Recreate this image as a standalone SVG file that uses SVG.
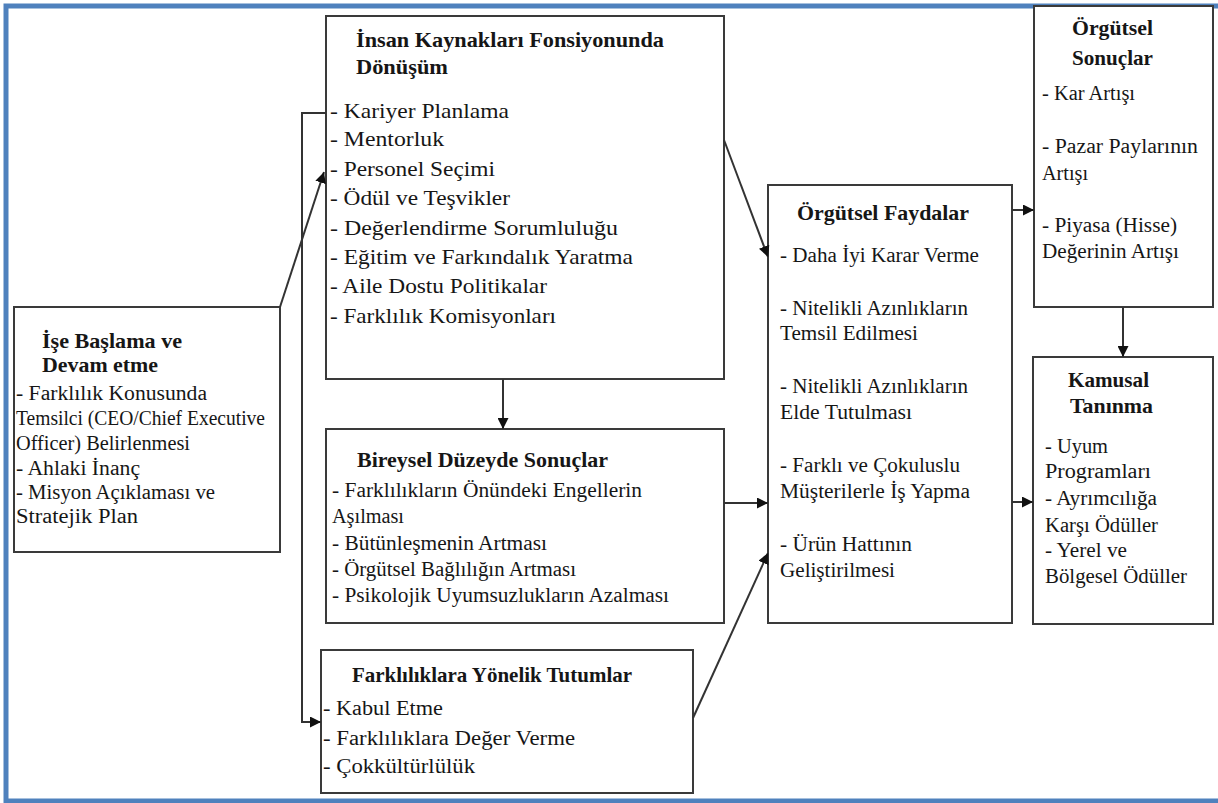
<svg xmlns="http://www.w3.org/2000/svg" width="1218" height="803" viewBox="0 0 1218 803">
<defs>
<style>
.box{fill:#ffffff;stroke:#3a3a3a;stroke-width:2}
.frame{fill:none;stroke:#4f81bd;stroke-width:5}
.conn{fill:none;stroke:#333333;stroke-width:2}
text{font-family:"Liberation Serif","DejaVu Serif",serif;fill:#161616;font-size:20px}
.t{font-weight:bold;font-size:21px}
.hr{font-size:21.5px}
</style>
<marker id="ah" markerUnits="userSpaceOnUse" markerWidth="13" markerHeight="11" refX="11" refY="5.5" orient="auto">
<path d="M0,0 L11,5.5 L0,11 Z" fill="#111111"/>
</marker>
</defs>
<rect x="0" y="0" width="1218" height="803" fill="#ffffff"/>
<path class="frame" d="M6,803 L6,6 L1218,6 M6,801 L1218,801"/>

<g id="hr">
<rect class="box" x="326" y="16" width="398" height="363"/>
<text class="t" x="356" y="47" textLength="308" lengthAdjust="spacingAndGlyphs">İnsan Kaynakları Fonsiyonunda</text>
<text class="t" x="356" y="74" textLength="92" lengthAdjust="spacingAndGlyphs">Dönüşüm</text>
<text class="hr" x="330" y="118" textLength="179" lengthAdjust="spacingAndGlyphs">- Kariyer Planlama</text>
<text class="hr" x="330" y="146" textLength="114" lengthAdjust="spacingAndGlyphs">- Mentorluk</text>
<text class="hr" x="330" y="176" textLength="165" lengthAdjust="spacingAndGlyphs">- Personel Seçimi</text>
<text class="hr" x="330" y="205" textLength="180" lengthAdjust="spacingAndGlyphs">- Ödül ve Teşvikler</text>
<text class="hr" x="330" y="235" textLength="288" lengthAdjust="spacingAndGlyphs">- Değerlendirme Sorumluluğu</text>
<text class="hr" x="330" y="264" textLength="303" lengthAdjust="spacingAndGlyphs">- Eğitim ve Farkındalık Yaratma</text>
<text class="hr" x="330" y="293" textLength="217" lengthAdjust="spacingAndGlyphs">- Aile Dostu Politikalar</text>
<text class="hr" x="330" y="323" textLength="226" lengthAdjust="spacingAndGlyphs">- Farklılık Komisyonları</text>
</g>

<g id="ise">
<rect class="box" x="14" y="307" width="266" height="245"/>
<text class="t" x="42" y="348" textLength="140" lengthAdjust="spacingAndGlyphs">İşe Başlama ve</text>
<text class="t" x="42" y="372" textLength="116" lengthAdjust="spacingAndGlyphs">Devam etme</text>
<text x="16" y="400" textLength="191" lengthAdjust="spacingAndGlyphs">- Farklılık Konusunda</text>
<text x="16" y="425" textLength="249" lengthAdjust="spacingAndGlyphs">Temsilci (CEO/Chief Executive</text>
<text x="16" y="450" textLength="174" lengthAdjust="spacingAndGlyphs">Officer) Belirlenmesi</text>
<text x="16" y="475" textLength="124" lengthAdjust="spacingAndGlyphs">- Ahlaki İnanç</text>
<text x="16" y="499" textLength="199" lengthAdjust="spacingAndGlyphs">- Misyon Açıklaması ve</text>
<text x="16" y="523" textLength="122" lengthAdjust="spacingAndGlyphs">Stratejik Plan</text>
</g>

<g id="bireysel">
<rect class="box" x="326" y="429" width="398" height="194"/>
<text class="t" x="357" y="467" textLength="251" lengthAdjust="spacingAndGlyphs">Bireysel Düzeyde Sonuçlar</text>
<text x="332" y="497" textLength="310" lengthAdjust="spacingAndGlyphs">- Farklılıkların Önündeki Engellerin</text>
<text x="332" y="523" textLength="72" lengthAdjust="spacingAndGlyphs">Aşılması</text>
<text x="332" y="550" textLength="215" lengthAdjust="spacingAndGlyphs">- Bütünleşmenin Artması</text>
<text x="332" y="576" textLength="244" lengthAdjust="spacingAndGlyphs">- Örgütsel Bağlılığın Artması</text>
<text x="332" y="602" textLength="337" lengthAdjust="spacingAndGlyphs">- Psikolojik Uyumsuzlukların Azalması</text>
</g>

<g id="tutumlar">
<rect class="box" x="321" y="650" width="372" height="143"/>
<text class="t" x="352" y="682" textLength="280" lengthAdjust="spacingAndGlyphs">Farklılıklara Yönelik Tutumlar</text>
<text x="323" y="715" textLength="120" lengthAdjust="spacingAndGlyphs">- Kabul Etme</text>
<text x="323" y="745" textLength="252" lengthAdjust="spacingAndGlyphs">- Farklılıklara Değer Verme</text>
<text x="323" y="773" textLength="152" lengthAdjust="spacingAndGlyphs">- Çokkültürlülük</text>
</g>

<g id="faydalar">
<rect class="box" x="768" y="185" width="244" height="438"/>
<text class="t" x="797" y="220" textLength="172" lengthAdjust="spacingAndGlyphs">Örgütsel Faydalar</text>
<text x="780" y="262" textLength="199" lengthAdjust="spacingAndGlyphs">- Daha İyi Karar Verme</text>
<text x="780" y="315" textLength="188" lengthAdjust="spacingAndGlyphs">- Nitelikli Azınlıkların</text>
<text x="780" y="340" textLength="138" lengthAdjust="spacingAndGlyphs">Temsil Edilmesi</text>
<text x="780" y="393" textLength="188" lengthAdjust="spacingAndGlyphs">- Nitelikli Azınlıkların</text>
<text x="780" y="419" textLength="132" lengthAdjust="spacingAndGlyphs">Elde Tutulması</text>
<text x="780" y="472" textLength="180" lengthAdjust="spacingAndGlyphs">- Farklı ve Çokuluslu</text>
<text x="780" y="498" textLength="190" lengthAdjust="spacingAndGlyphs">Müşterilerle İş Yapma</text>
<text x="780" y="551" textLength="132" lengthAdjust="spacingAndGlyphs">- Ürün Hattının</text>
<text x="780" y="577" textLength="115" lengthAdjust="spacingAndGlyphs">Geliştirilmesi</text>
</g>

<g id="sonuclar">
<rect class="box" x="1034" y="6" width="179" height="301"/>
<text class="t" x="1072" y="35" textLength="81" lengthAdjust="spacingAndGlyphs">Örgütsel</text>
<text class="t" x="1072" y="65" textLength="81" lengthAdjust="spacingAndGlyphs">Sonuçlar</text>
<text x="1042" y="100" textLength="93" lengthAdjust="spacingAndGlyphs">- Kar Artışı</text>
<text x="1042" y="153" textLength="156" lengthAdjust="spacingAndGlyphs">- Pazar Paylarının</text>
<text x="1042" y="180" textLength="46" lengthAdjust="spacingAndGlyphs">Artışı</text>
<text x="1042" y="232" textLength="135" lengthAdjust="spacingAndGlyphs">- Piyasa (Hisse)</text>
<text x="1042" y="258" textLength="137" lengthAdjust="spacingAndGlyphs">Değerinin Artışı</text>
</g>

<g id="kamusal">
<rect class="box" x="1033" y="357" width="180" height="267"/>
<text class="t" x="1068" y="387" textLength="81" lengthAdjust="spacingAndGlyphs">Kamusal</text>
<text class="t" x="1070" y="413" textLength="83" lengthAdjust="spacingAndGlyphs">Tanınma</text>
<text x="1045" y="453" textLength="63" lengthAdjust="spacingAndGlyphs">- Uyum</text>
<text x="1045" y="478" textLength="106" lengthAdjust="spacingAndGlyphs">Programları</text>
<text x="1045" y="505" textLength="112" lengthAdjust="spacingAndGlyphs">- Ayrımcılığa</text>
<text x="1045" y="532" textLength="113" lengthAdjust="spacingAndGlyphs">Karşı Ödüller</text>
<text x="1045" y="557" textLength="82" lengthAdjust="spacingAndGlyphs">- Yerel ve</text>
<text x="1045" y="583" textLength="142" lengthAdjust="spacingAndGlyphs">Bölgesel Ödüller</text>
</g>

<g id="connectors">
<path class="conn" d="M280,307 L324,172" marker-end="url(#ah)"/>
<path class="conn" d="M326,113 L302,113 L302,722 L321,722" marker-end="url(#ah)"/>
<path class="conn" d="M724,140 L768,257" marker-end="url(#ah)"/>
<path class="conn" d="M503,379 L503,429" marker-end="url(#ah)"/>
<path class="conn" d="M724,503 L768,503" marker-end="url(#ah)"/>
<path class="conn" d="M693,718 L768,553" marker-end="url(#ah)"/>
<path class="conn" d="M1012,210 L1034,210" marker-end="url(#ah)"/>
<path class="conn" d="M1123,307 L1123,357" marker-end="url(#ah)"/>
<path class="conn" d="M1012,502 L1033,502" marker-end="url(#ah)"/>
</g>
</svg>
